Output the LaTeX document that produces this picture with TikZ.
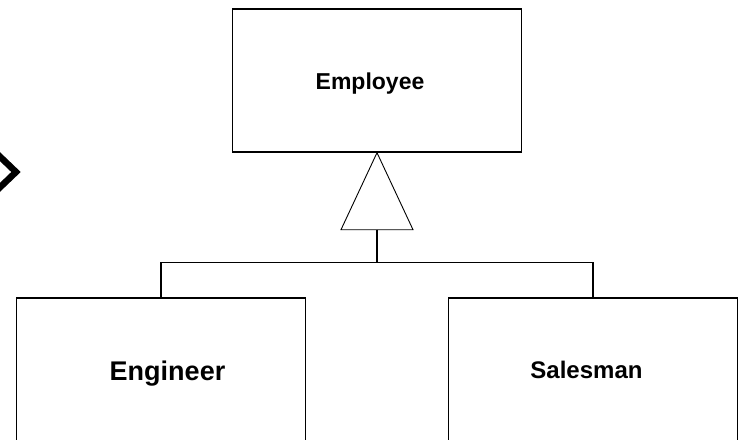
\documentclass[tikz,border=0pt]{standalone}
\usepackage{fontspec}
\setmainfont{Liberation Sans}
\usepackage{tikz}
\usetikzlibrary{positioning}

\tikzset{
  classbox/.style={draw, line width=1.4pt, minimum width=289pt, minimum height=143pt, inner sep=0pt},
  classname/.style={anchor=base, inner sep=0pt, font=\fontsize{#1}{#1}\selectfont\bfseries},
  classname/.default=25,
  link/.style={line width=1.2pt}
}

\begin{document}
\begin{tikzpicture}[x=1pt, y=-1pt]

                \useasboundingbox (0,0) rectangle (744,439);
                \clip (0,0) rectangle (744,439);

                %Classes
                \node[classbox] (employee) at (377,80.5) {};
                \node[classbox] (engineer) at (161,369.5) {};
                \node[classbox] (salesman) at (593,369.5) {};

                %Class names
                \node[classname=23] (employeetext) at (370,89) {Employee};
                \node[classname=27] (engineertext) at (167.5,380) {Engineer};
                \node[classname=24] (salesmantext) at (586.5,378) {Salesman};

                %Generalization triangle
                \draw[line width=0.9pt] (employee.south) -- ++(-36,77) -- ++(72,0) -- cycle;
                \coordinate (tristem) at ([yshift=-77pt]employee.south);
                \coordinate (bus) at ([yshift=-110pt]employee.south);

                %Connectors
                \draw[link] (tristem) -- (bus);
                \draw[link] (engineer.north) |- (bus) -| (salesman.north);

                %cut-off shape at left edge
                \draw[line width=6.5pt, line join=miter] (-7,150) -- (16,172) -- (-7,194);

\end{tikzpicture}
\end{document}
